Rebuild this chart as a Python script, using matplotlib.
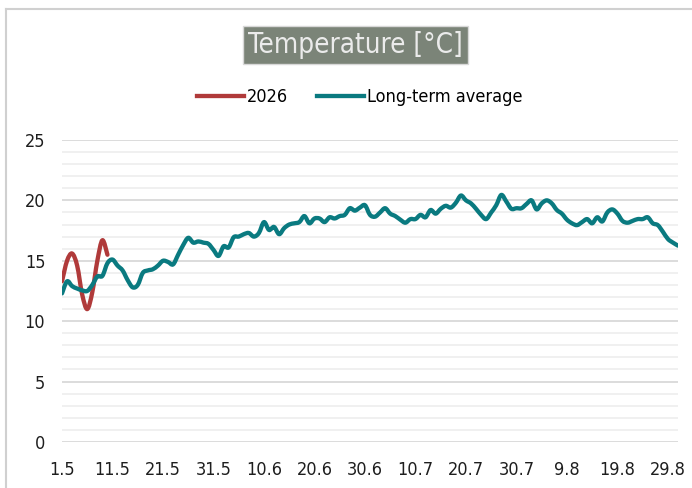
import matplotlib
matplotlib.use("Agg")
import matplotlib.pyplot as plt
import numpy as np
from matplotlib.path import Path
from matplotlib.patches import PathPatch
from matplotlib.lines import Line2D

plt.rcParams['font.family'] = ['DejaVu Sans']
plt.rcParams['font.stretch'] = 'condensed'

# day labels, 1.5 .. 31.8 (day.month)
month_days = [(5, 31), (6, 30), (7, 31), (8, 31)]
days = [f"{d}.{m}" for m, n in month_days for d in range(1, n + 1)]

temp_2026 = [13.3, 15.0, 15.6, 14.6, 12.2, 11.0, 12.4, 15.0, 16.7, 15.5]

temp_avg = [
    12.3, 13.3, 12.9, 12.7, 12.55, 12.5, 13.0, 13.7, 13.75, 14.8,
    15.1, 14.6, 14.2, 13.4, 12.8, 13.0, 14.0, 14.2, 14.3, 14.6,
    15.0, 14.9, 14.7, 15.5, 16.3, 16.9, 16.5, 16.6, 16.5, 16.4,
    15.9, 15.4, 16.2, 16.1, 16.95, 17.0, 17.2, 17.3, 17.0, 17.3,
    18.2, 17.55, 17.8, 17.2, 17.7, 18.0, 18.1, 18.2, 18.7, 18.1,
    18.5, 18.5, 18.2, 18.6, 18.5, 18.7, 18.8, 19.35, 19.15, 19.4,
    19.6, 18.8, 18.65, 19.0, 19.35, 18.9, 18.7, 18.4, 18.15, 18.45,
    18.45, 18.8, 18.6, 19.2, 18.9, 19.3, 19.55, 19.4, 19.8, 20.4,
    20.0, 19.75, 19.3, 18.8, 18.45, 19.0, 19.6, 20.45, 19.9, 19.3,
    19.35, 19.35, 19.7, 20.0, 19.25, 19.75, 20.0, 19.75, 19.2, 18.9,
    18.4, 18.1, 17.95, 18.2, 18.45, 18.1, 18.6, 18.25, 19.0, 19.25,
    18.9, 18.3, 18.15, 18.3, 18.45, 18.45, 18.6, 18.1, 17.95, 17.4,
    16.8, 16.5, 16.25,
]

red = '#b03a3a'
teal = '#0a7a80'


def smooth_path(y):
    # Excel-like smoothed line: cubic bezier through the points
    x = np.arange(len(y), dtype=float)
    y = np.asarray(y, dtype=float)
    verts = [(x[0], y[0])]
    codes = [Path.MOVETO]
    n = len(y)
    for i in range(n - 1):
        x0, y0 = (x[i - 1], y[i - 1]) if i > 0 else (x[i], y[i])
        x3, y3 = (x[i + 2], y[i + 2]) if i + 2 < n else (x[i + 1], y[i + 1])
        c1 = (x[i] + (x[i + 1] - x0) / 6, y[i] + (y[i + 1] - y0) / 6)
        c2 = (x[i + 1] - (x3 - x[i]) / 6, y[i + 1] - (y3 - y[i]) / 6)
        verts += [c1, c2, (x[i + 1], y[i + 1])]
        codes += [Path.CURVE4] * 3
    return Path(verts, codes)


fig = plt.figure(figsize=(6.92, 4.88), dpi=100)
ax = fig.add_axes([0.0896, 0.0943, 0.8902, 0.6189])

for data, col in [(temp_2026, red), (temp_avg, teal)]:
    ax.add_patch(PathPatch(smooth_path(data), fill=False, edgecolor=col,
                           lw=3.1, capstyle='round', joinstyle='round', zorder=3))

ax.set_xlim(0, len(days) - 1)
ax.set_ylim(0, 25)
ax.set_yticks(range(0, 26, 5))
ax.set_yticks(range(0, 26, 1), minor=True)
ax.set_xticks(range(0, len(days), 10))
ax.set_xticklabels(days[::10])
ax.grid(True, which='major', axis='y', color='#d9d9d9', lw=1.3, zorder=0)
ax.grid(True, which='minor', axis='y', color='#efefef', lw=1.3, zorder=0)
ax.tick_params(axis='both', which='both', length=0, labelsize=13, colors='#1e1e1e')
ax.tick_params(axis='x', pad=14)
ax.tick_params(axis='y', pad=12)
for s in ax.spines.values():
    s.set_visible(False)

fig.text(0.514, 0.907, 'Temperature [°C]', ha='center', va='center',
         fontsize=20, color='#ebebeb',
         bbox=dict(boxstyle='square,pad=0.18', facecolor='#7b8478', edgecolor='#d8d8d8', lw=1))

handles = [Line2D([], [], color=red, lw=3.1), Line2D([], [], color=teal, lw=3.1)]
fig.legend(handles, ['2026', 'Long-term average'], loc='center', bbox_to_anchor=(0.52, 0.801),
           ncol=2, frameon=False, fontsize=13, handlelength=2.6, handletextpad=0.15,
           columnspacing=1.6)

# outer frame of the chart
fig.add_artist(Line2D([0.009, 0.009], [0.0, 0.982], transform=fig.transFigure, color='#d0d0d0', lw=1.5))
fig.add_artist(Line2D([0.009, 1.0], [0.982, 0.982], transform=fig.transFigure, color='#d0d0d0', lw=1.5))

fig.savefig('out.png', dpi=100)
